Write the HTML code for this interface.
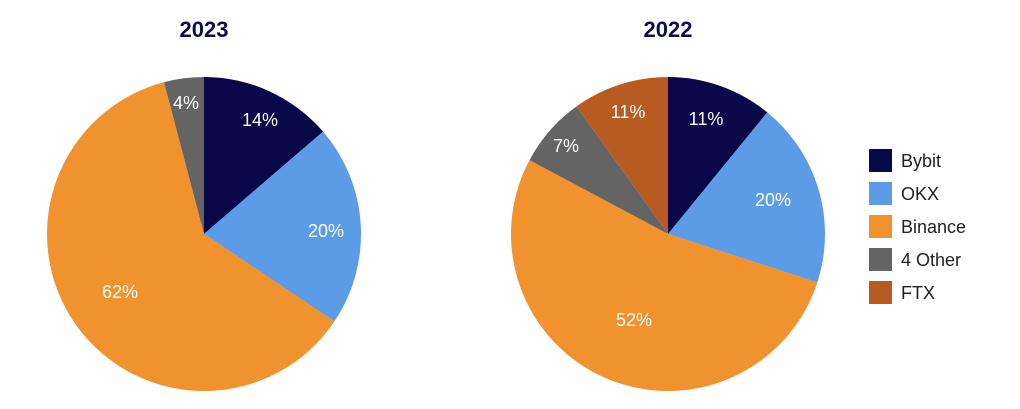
<!DOCTYPE html>
<html><head><meta charset="utf-8"><style>
html,body{margin:0;padding:0;background:#fff;}
svg{display:block;font-family:"Liberation Sans",Arial,sans-serif;}
</style></head><body>
<svg id="s" width="1020" height="409" viewBox="0 0 1020 409">
<text x="204" y="37" text-anchor="middle" font-size="22" font-weight="bold" fill="#0b0b4d">2023</text>
<text x="668" y="37" text-anchor="middle" font-size="22" font-weight="bold" fill="#0b0b4d">2022</text>
<g font-size="18" fill="#222">
<rect x="869" y="149" width="23" height="23" fill="#09094a"/><text x="901" y="167">Bybit</text>
<rect x="869" y="182" width="23" height="23" fill="#5c9ce6"/><text x="901" y="200">OKX</text>
<rect x="869" y="215" width="23" height="23" fill="#f0922e"/><text x="901" y="233">Binance</text>
<rect x="869" y="248" width="23" height="23" fill="#646464"/><text x="901" y="266">4 Other</text>
<rect x="869" y="281" width="23" height="23" fill="#b85b23"/><text x="901" y="299">FTX</text>
</g>
</svg>
<script>
var NS="http://www.w3.org/2000/svg",s=document.getElementById("s");
var C=["#09094a","#5c9ce6","#f0922e","#646464","#b85b23"];
function pie(cx,cy,r,cum,labels){
 var prev=0;
 cum.forEach(function(c,i){
  var a0=prev*2*Math.PI,a1=c*2*Math.PI;
  var x0=cx+r*Math.sin(a0),y0=cy-r*Math.cos(a0),x1=cx+r*Math.sin(a1),y1=cy-r*Math.cos(a1);
  var p=document.createElementNS(NS,"path");
  p.setAttribute("d","M"+cx+","+cy+"L"+x0+","+y0+"A"+r+","+r+" 0 "+((c-prev)>0.5?1:0)+" 1 "+x1+","+y1+"Z");
  p.setAttribute("fill",C[i]);s.appendChild(p);
  prev=c;
 });
 labels.forEach(function(l){
  var t=document.createElementNS(NS,"text");
  t.setAttribute("x",l[1]);t.setAttribute("y",l[2]+6);
  t.setAttribute("text-anchor","middle");t.setAttribute("font-size","18");t.setAttribute("fill","#fff");
  t.textContent=l[0];s.appendChild(t);
 });
}
pie(204,234,157,[0.137,0.344,0.959,1],[["14%",260,120],["20%",326,231],["62%",120,292],["4%",186,103]]);
pie(668,234,157,[0.109,0.30,0.828,0.901,1],[["11%",706,119],["20%",773,200],["52%",634,320],["7%",566,146],["11%",628,112]]);
</script>
</body></html>
